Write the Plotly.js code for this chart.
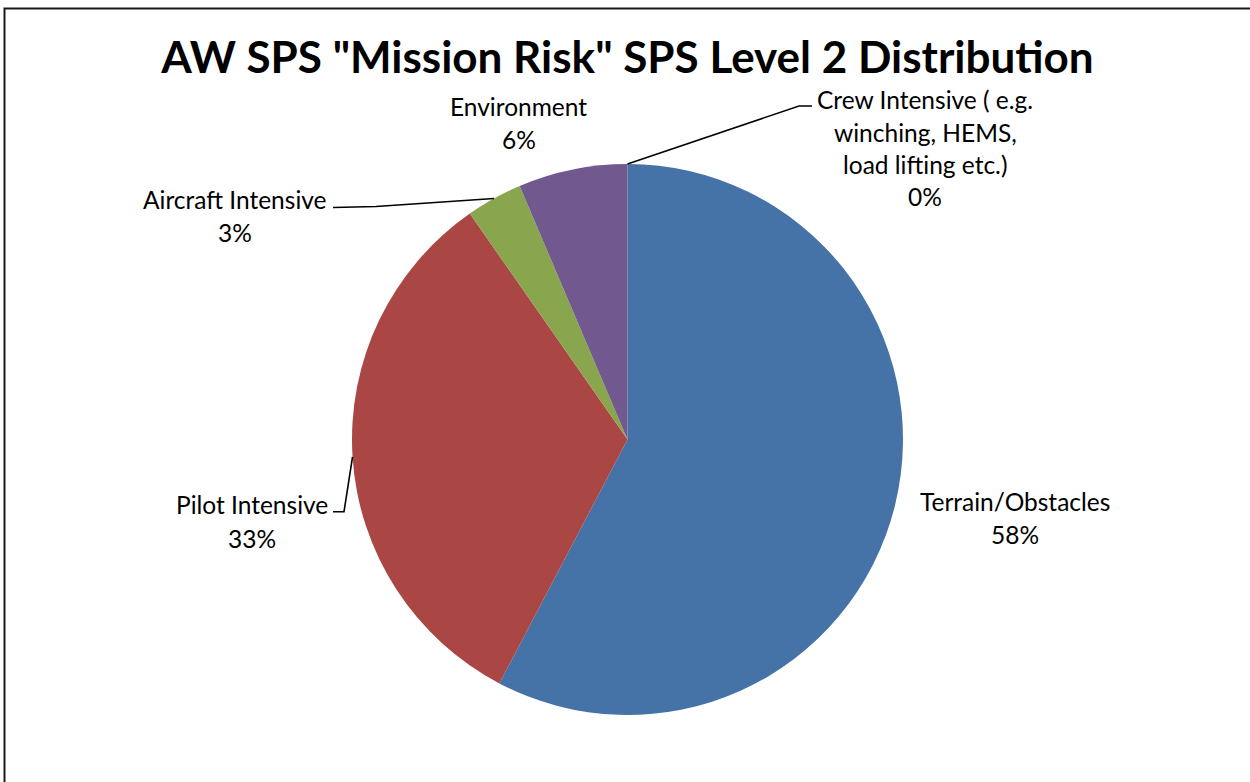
<!DOCTYPE html>
<html>
<head>
<meta charset="utf-8">
<script src="https://cdn.plot.ly/plotly-3.0.1.min.js"></script>
<style>
html,body{margin:0;padding:0;background:#fff;}
#chart{width:1250px;height:782px;}
</style>
</head>
<body>
<div id="chart"></div>
<script>
// ---- data ----
var categories = ["Terrain/Obstacles", "Pilot Intensive", "Aircraft Intensive", "Environment", "Crew Intensive ( e.g. winching, HEMS, load lifting etc.)"];
var labelLines = [["Terrain/Obstacles"], ["Pilot Intensive"], ["Aircraft Intensive"], ["Environment"], ["Crew Intensive ( e.g.", "winching, HEMS,", "load lifting etc.)"]];
var values = [57.7, 32.6, 3.3, 6.4, 0];
var colors = ["#4572A7", "#AA4643", "#89A54E", "#71588F", "#4BACC6"];
var titleText = 'AW SPS "Mission Risk" SPS Level 2 Distribution';

// ---- layout geometry (pixels) ----
var W = 1250, H = 782;
var cx = 627.5, cy = 439.5, R = 275.5;
// label text anchor positions (centre x, first-line y, line step)
var labelPos = [
  {x: 1014.5, y: 501, step: 33},
  {x: 252, y: 505, step: 33},
  {x: 235, y: 200, step: 32},
  {x: 518.7, y: 106, step: 33},
  {x: 925.5, y: 100, step: 32}
];
// leader line bends (pixels), from slice edge outwards; null = no leader
var leaderBends = [
  null,
  [[344, 511.7], [333, 511.7]],
  [[376, 206.5], [333, 207.5]],
  null,
  [[799, 106], [812, 106]]
];

function px(x){ return x / W; }
function py(y){ return 1 - y / H; }

var total = values.reduce(function(a,b){return a+b;}, 0);

var annotations = [];
var shapes = [];
var cum = 0;
for (var i = 0; i < values.length; i++) {
  var frac = values[i] / total;
  var mid = (cum + frac / 2) * 2 * Math.PI;
  cum += frac;
  var lines = labelLines[i].concat([Math.round(frac * 100) + '%']);
  var p = labelPos[i];
  for (var k = 0; k < lines.length; k++) {
    annotations.push({
      x: px(p.x), y: py(p.y + k * p.step), xref: 'paper', yref: 'paper',
      text: lines[k], showarrow: false, xanchor: 'center', yanchor: 'middle',
      font: {family: 'Lato, "Noto Sans", sans-serif', size: 24.5, color: '#000'}
    });
  }
  if (leaderBends[i]) {
    var ex = cx + R * Math.sin(mid), ey = cy - R * Math.cos(mid);
    var path = 'M ' + px(ex) + ' ' + py(ey);
    leaderBends[i].forEach(function(b){ path += ' L ' + px(b[0]) + ' ' + py(b[1]); });
    shapes.push({type: 'path', xref: 'paper', yref: 'paper', path: path,
      line: {color: '#000', width: 1.6}});
  }
}

// chart border (left and top edges; others fall outside the picture)
shapes.push({type: 'path', xref: 'paper', yref: 'paper',
  path: 'M ' + px(4.5) + ' ' + py(800) + ' L ' + px(4.5) + ' ' + py(8.5) + ' L ' + px(1300) + ' ' + py(8.5),
  line: {color: '#1a1a1a', width: 2}});

var trace = {
  type: 'pie',
  labels: categories,
  values: values,
  sort: false,
  direction: 'clockwise',
  rotation: 0,
  textinfo: 'none',
  textposition: 'none',
  hoverinfo: 'label+percent',
  marker: {colors: colors, line: {width: 0}},
  domain: {x: [px(cx - R), px(cx + R)], y: [py(cy + R), py(cy - R)]},
  showlegend: false
};

var layout = {
  width: W, height: H,
  margin: {l: 0, r: 0, t: 0, b: 0},
  paper_bgcolor: '#fff',
  title: {text: titleText, x: px(627.5), xanchor: 'center', y: py(58), yanchor: 'middle',
    font: {family: 'Lato, "Noto Sans", sans-serif', size: 44, color: '#000', weight: 'bold'}},
  annotations: annotations,
  shapes: shapes,
  showlegend: false
};

Plotly.newPlot('chart', [trace], layout, {displayModeBar: false, staticPlot: true});
</script>
</body>
</html>
